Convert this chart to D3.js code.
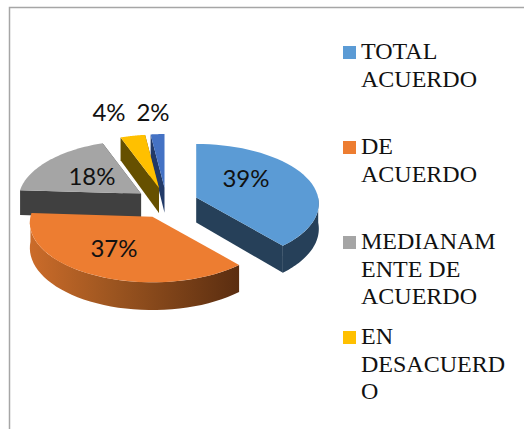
<!doctype html>
<html lang="en">
<head>
<meta charset="utf-8">
<style>
html, body { margin: 0; padding: 0; background: #fff; overflow: hidden; }
svg { display: block; }
.pct { font-family: Lato, "Open Sans", sans-serif; font-size: 24px; fill: #111; text-anchor: middle; }
.leg { font-family: "Liberation Serif", serif; font-size: 24px; fill: #111; }
</style>
</head>
<body>
<svg id="chart" width="524" height="429"></svg>
<script src="https://cdn.jsdelivr.net/npm/d3@7"></script>
<script>
// values, clockwise from 12 o'clock
const values = [38.6, 37.4, 18.4, 3.6, 2];
const topColors = ['#5b9bd5', '#ed7d31', '#a5a5a5', '#ffc000', '#4472c4'];
const wallColors = ['#264059', '#8a4a1d', '#404040', '#665000', '#223a68'];
const legendLines = [
    ['TOTAL', 'ACUERDO'],
    ['DE', 'ACUERDO'],
    ['MEDIANAM', 'ENTE DE', 'ACUERDO'],
    ['EN', 'DESACUERD', 'O']
];
const pctLabels = ['39%', '37%', '18%', '4%', '2%'];
const pctX = [246, 114, 92, 109, 153];
const pctY = [187, 257, 185, 121, 121];

const svg = d3.select('#chart');

// fake 3d: flat pie in (u, v), v towards the viewer, with a bit of perspective
const cx = 166.5, cy = 203, rx = 122, ry = 59, persp = 0.1, depth = 25, explode = 0.26;

function project(u, v, z) {
    const s = 1 / (1 - persp * v);
    return [rx * u * s, ry * v * s + z * s];
}

const slices = d3.pie().sort(null)(values);
slices.forEach(d => {
    const mid = (d.startAngle + d.endAngle) / 2;
    d.ox = cx + explode * rx * Math.sin(mid);
    d.oy = cy - explode * ry * Math.cos(mid);
});

const pt = (d, a, r, z) => {
    const p = project(r * Math.sin(a), -r * Math.cos(a), z);
    return [d.ox + p[0], d.oy + p[1]];
};
const arcAngles = (a0, a1) => d3.range(0, 41).map(i => a0 + (a1 - a0) * i / 40);
const line = d3.line();

// orange rim fades from left to right
const defs = svg.append('defs');
const grad = defs.append('linearGradient').attr('id', 'rim')
    .attr('gradientUnits', 'userSpaceOnUse')
    .attr('x1', 28).attr('x2', 240).attr('y1', 0).attr('y2', 0);
grad.selectAll('stop').data([[0, '#cc6c2a'], [0.4, '#9c5520'], [1, '#5a2d10']]).enter()
    .append('stop').attr('offset', d => d[0]).attr('stop-color', d => d[1]);

// frame
svg.append('path').attr('d', 'M524,7.5H9.5V429')
    .attr('fill', 'none').attr('stroke', '#a6a6a6').attr('stroke-width', 1.5);

// back to front
const order = [4, 3, 2, 0, 1];
const g = svg.append('g');
order.forEach(i => {
    const d = slices[i];
    const wall = i === 1 ? 'url(#rim)' : wallColors[i];

    // radial walls, the hidden ones end up under the top face
    if (i !== 1) {
        [d.startAngle, d.endAngle].forEach(a => {
            g.append('path')
                .attr('d', line([pt(d, a, 0, 0), pt(d, a, 1, 0), pt(d, a, 1, depth), pt(d, a, 0, depth)]) + 'Z')
                .attr('fill', wallColors[i]);
        });
    }

    // outer rim, front half only
    const a0 = Math.max(d.startAngle, Math.PI / 2), a1 = Math.min(d.endAngle, Math.PI * 1.5);
    if (a1 > a0) {
        const angles = arcAngles(a0, a1);
        const ring = angles.map(a => pt(d, a, 1, 0)).concat(angles.slice().reverse().map(a => pt(d, a, 1, depth)));
        g.append('path').attr('d', line(ring) + 'Z').attr('fill', wall);
    }

    // top face
    const top = [pt(d, 0, 0, 0)].concat(arcAngles(d.startAngle, d.endAngle).map(a => pt(d, a, 1, 0)));
    g.append('path').attr('d', line(top) + 'Z').attr('fill', topColors[i]);
});

// percent labels
svg.selectAll('.pct').data(pctLabels).enter().append('text')
    .attr('class', 'pct')
    .attr('x', (d, i) => pctX[i])
    .attr('y', (d, i) => pctY[i])
    .text(d => d);

// legend
const legY = d3.scaleLinear().domain([0, 1]).range([59, 154]);
const leg = svg.selectAll('.legitem').data(legendLines).enter().append('g')
    .attr('class', 'legitem')
    .attr('transform', (d, i) => `translate(343,${legY(i)})`);
leg.append('rect').attr('x', 0).attr('y', -13).attr('width', 13).attr('height', 13)
    .attr('fill', (d, i) => topColors[i]);
leg.each(function(lines) {
    d3.select(this).selectAll('text').data(lines).enter().append('text')
        .attr('class', 'leg')
        .attr('x', 18)
        .attr('y', (d, j) => j * 27.7)
        .text(d => d);
});
</script>
</body>
</html>
